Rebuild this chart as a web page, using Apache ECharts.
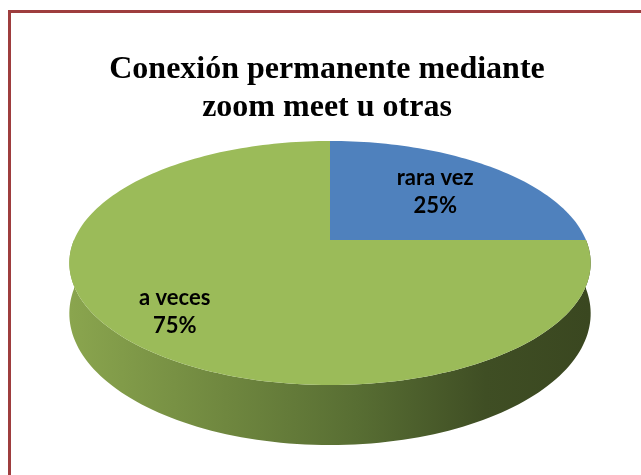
<!DOCTYPE html>
<html><head><meta charset="utf-8">
<script src="https://cdn.jsdelivr.net/npm/echarts@6/dist/echarts.min.js"></script>
<style>html,body{margin:0;padding:0;background:#fff}#c{width:641px;height:475px}</style>
</head><body><div id="c"></div>
<script>
const categories = ['rara vez', 'a veces'];
const values = [25, 75];
const sliceColors = ['#4F81BD', '#9BBB59'];
const titleLines = ['Conexión permanente mediante', 'zoom meet u otras'];

const CX = 330, CY = 240, RX = 256, KY = 117.7, P = 0.1885, DEPTH = 48.7;
const total = values.reduce((a, b) => a + b, 0);
function proj(deg, r, d) {
  const t = deg * Math.PI / 180;
  const X = r * Math.cos(t), Z = r * Math.sin(t);
  const w = 1 + P * Z;
  return [CX + RX * X / w, CY - KY * Z / w + (d || 0) / w];
}
function sliceRange(i) {
  let cum = 0;
  for (let k = 0; k < i; k++) cum += values[k];
  const a0 = 90 - cum / total * 360;
  const a1 = a0 - values[i] / total * 360;
  return [a0, a1];
}
function arcPts(a0, a1, r, d) {
  const n = Math.max(2, Math.ceil(Math.abs(a0 - a1) / 1.5));
  const pts = [];
  for (let j = 0; j <= n; j++) pts.push(proj(a0 + (a1 - a0) * j / n, r, d));
  return pts;
}
const labelR = [0.63, 0.77];
const sideGradient = {
  type: 'linear', x: 70, y: 0, x2: 590, y2: 0, global: true,
  colorStops: [
    { offset: 0, color: '#8aa54e' },
    { offset: 0.3, color: '#6f873f' },
    { offset: 0.55, color: '#586e33' },
    { offset: 0.8, color: '#3f4e24' },
    { offset: 1, color: '#3a4720' }
  ]
};

function renderItem(params, api) {
  const i = params.dataIndex;
  const [a0, a1] = sliceRange(i);
  const children = [];
  for (const k of [-360, 0, 360]) {
    const lo = Math.max(a1, -180 + k), hi = Math.min(a0, 0 + k);
    if (hi > lo) {
      const top = arcPts(hi, lo, 1, 0);
      const bot = arcPts(lo, hi, 1, DEPTH);
      children.push({ type: 'polygon', shape: { points: top.concat(bot) }, style: { fill: sideGradient, stroke: null }, z2: 1 });
    }
  }
  const topPts = [proj(0, 0, 0)].concat(arcPts(a0, a1, 1, 0));
  children.push({ type: 'polygon', shape: { points: topPts }, style: { fill: api.visual('color') }, z2: 10 });
  const lp = proj((a0 + a1) / 2, labelR[i], 0);
  children.push({
    type: 'text', x: lp[0], y: lp[1], z2: 20,
    style: {
      text: categories[i] + '\n' + Math.round(values[i] / total * 100) + '%',
      fill: '#000', fontFamily: 'Lato', fontWeight: 'bold', fontSize: 22, lineHeight: 28,
      align: 'center', verticalAlign: 'middle'
    }
  });
  return { type: 'group', children };
}

const chart = echarts.init(document.getElementById('c'), null, { renderer: 'canvas' });
chart.setOption({
  animation: false,
  backgroundColor: '#fff',
  graphic: [
    { type: 'rect', shape: { x: 9.5, y: 11.5, width: 700, height: 600 }, style: { fill: 'none', stroke: '#9e3d3e', lineWidth: 3 }, z: 100 },
    { type: 'text', x: 327, y: 51, style: { text: titleLines.join('\n'), fontFamily: 'Liberation Serif', fontWeight: 'bold', fontSize: 32, lineHeight: 38, fill: '#000', align: 'center', verticalAlign: 'top' } }
  ],
  series: [{
    type: 'custom',
    coordinateSystem: 'none',
    renderItem: renderItem,
    data: values.map((v, i) => ({ value: v, name: categories[i], itemStyle: { color: sliceColors[i] } }))
  }]
});
</script></body></html>
